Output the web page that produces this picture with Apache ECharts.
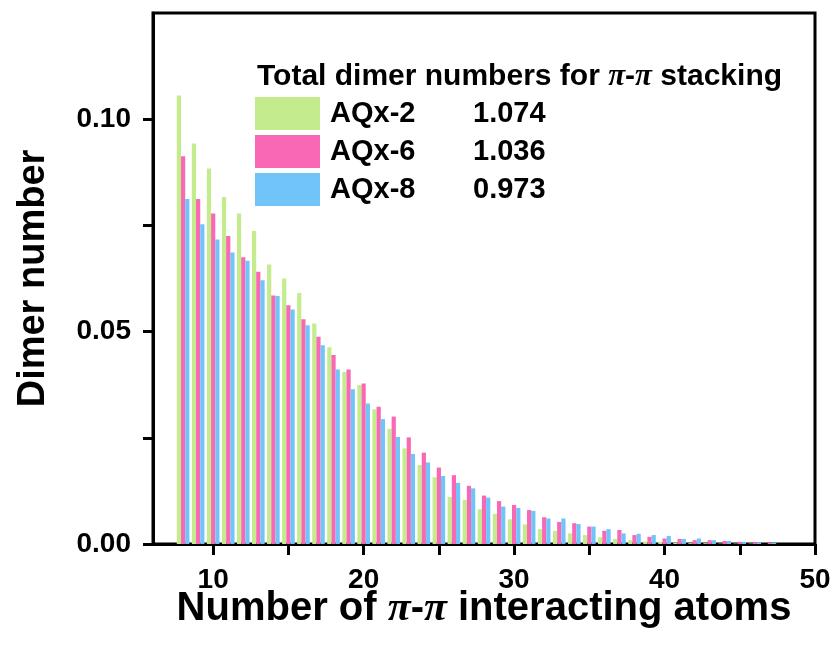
<!DOCTYPE html>
<html>
<head>
<meta charset="utf-8">
<script src="https://cdn.jsdelivr.net/npm/echarts@6/dist/echarts.min.js"></script>
<style>
html,body{margin:0;padding:0;background:#fff;}
#chart{width:837px;height:650px;}
</style>
</head>
<body>
<div id="chart"></div>
<script>
// ---- data ----
var atoms = [8,9,10,11,12,13,14,15,16,17,18,19,20,21,22,23,24,25,26,27,28,29,30,31,32,33,34,35,36,37,38,39,40,41,42,43,44,45,46,47];
var aqx2 = [0.1056,0.0943,0.0884,0.0817,0.0778,0.0737,0.0658,0.0625,0.0591,0.0519,0.0463,0.0405,0.0374,0.0317,0.0271,0.0225,0.0186,0.0157,0.0111,0.0104,0.0082,0.0071,0.0058,0.0046,0.0035,0.0031,0.0025,0.0021,0.0016,0.0012,0.0009,0.0006,0.0005,0.0003,0.0002,0.0002,0.0001,0.0001,0.0001,0.0000];
var aqx6 = [0.0913,0.0812,0.0778,0.0725,0.0675,0.0641,0.0585,0.0562,0.0529,0.0488,0.0445,0.0411,0.0378,0.0323,0.0300,0.0251,0.0215,0.0180,0.0162,0.0137,0.0114,0.0101,0.0092,0.0080,0.0063,0.0052,0.0049,0.0041,0.0031,0.0033,0.0021,0.0017,0.0013,0.0012,0.0009,0.0009,0.0007,0.0005,0.0004,0.0003];
var aqx8 = [0.0812,0.0753,0.0717,0.0686,0.0667,0.0621,0.0584,0.0552,0.0515,0.0468,0.0411,0.0364,0.0331,0.0294,0.0252,0.0212,0.0192,0.0160,0.0144,0.0131,0.0109,0.0088,0.0085,0.0078,0.0060,0.0060,0.0047,0.0041,0.0035,0.0025,0.0024,0.0021,0.0019,0.0012,0.0013,0.0009,0.0007,0.0005,0.0004,0.0003];
var seriesNames = ['AQx-2','AQx-6','AQx-8'];
var totals = ['1.074','1.036','0.973'];
var xTickLabels = [10,20,30,40,50];
var xTicks = [10,15,20,25,30,35,40,45,50];
var yTickLabels = [0,0.05,0.10];
var yTicks = [0,0.025,0.05,0.075,0.10];

var colors = ['#c4ec8c','#f868b4','#70c4f8'];
var FONT = '"Liberation Sans", Arial, sans-serif';
var SERIF = '"Liberation Serif", "DejaVu Serif", serif';

function pairs(vals){ return atoms.map(function(a,i){ return [a, vals[i]]; }); }
var allVals = [aqx2, aqx6, aqx8];

var chart = echarts.init(document.getElementById('chart'));
var option = {
  animation: false,
  backgroundColor: '#ffffff',
  title: {
    left: 252, top: 56,
    text: '{a|Total dimer numbers for }{p|π}{a|-}{p|π}{a| stacking}',
    textStyle: {
      rich: {
        a: {fontFamily: FONT, fontWeight: 'bold', fontSize: 30, color: '#000'},
        p: {fontFamily: SERIF, fontStyle: 'italic', fontWeight: 'bold', fontSize: 31, color: '#000'}
      }
    }
  },
  legend: {
    orient: 'vertical',
    left: 250, top: 92,
    itemWidth: 65, itemHeight: 33, itemGap: 5,
    icon: 'rect',
    data: seriesNames,
    formatter: function(name){
      var i = seriesNames.indexOf(name);
      return '{n|' + name + '}{v|' + totals[i] + '}';
    },
    textStyle: {
      rich: {
        n: {fontFamily: FONT, fontWeight: 'bold', fontSize: 29, lineHeight: 33, color: '#000', width: 143, padding: [0,0,0,5]},
        v: {fontFamily: FONT, fontWeight: 'bold', fontSize: 29, lineHeight: 33, color: '#000'}
      }
    }
  },
  grid: {
    left: 153, right: 22, top: 13, bottom: 106,
    show: true, borderColor: '#000', borderWidth: 3, backgroundColor: 'transparent'
  },
  xAxis: {
    type: 'value', min: 6, max: 50,
    name: '{a|Number of }{p|π}{a|-}{p|π}{a| interacting atoms}',
    nameLocation: 'middle', nameGap: 44, nameMoveOverlap: false,
    nameTextStyle: {
      rich: {
        a: {fontFamily: FONT, fontWeight: 'bold', fontSize: 40, color: '#000'},
        p: {fontFamily: SERIF, fontStyle: 'italic', fontWeight: 'bold', fontSize: 42, color: '#000'}
      }
    },
    axisLine: {show: true, onZero: false, lineStyle: {color: '#000', width: 3}},
    axisTick: {show: true, inside: false, length: 11, lineStyle: {color: '#000', width: 3}, customValues: xTicks},
    axisLabel: {show: true, margin: 22, fontFamily: FONT, fontWeight: 'bold', fontSize: 28, color: '#000', customValues: xTickLabels},
    splitLine: {show: false}
  },
  yAxis: {
    type: 'value', min: 0, max: 0.125,
    name: 'Dimer number',
    nameLocation: 'middle', nameGap: 100, nameMoveOverlap: false,
    nameTextStyle: {fontFamily: FONT, fontWeight: 'bold', fontSize: 38, color: '#000'},
    axisLine: {show: true, onZero: false, lineStyle: {color: '#000', width: 3}},
    axisTick: {show: true, inside: false, length: 10, lineStyle: {color: '#000', width: 3}, customValues: yTicks},
    axisLabel: {show: true, margin: 22, fontFamily: FONT, fontWeight: 'bold', fontSize: 28, color: '#000',
      customValues: yTickLabels, formatter: function(v){ return v.toFixed(2); }},
    splitLine: {show: false}
  },
  series: seriesNames.map(function(n, i){
    return {
      name: n, type: 'bar',
      data: pairs(allVals[i]),
      barWidth: 4.2, barGap: '0%',
      itemStyle: {color: colors[i]},
      emphasis: {disabled: true}
    };
  })
};
chart.setOption(option);
</script>
</body>
</html>
